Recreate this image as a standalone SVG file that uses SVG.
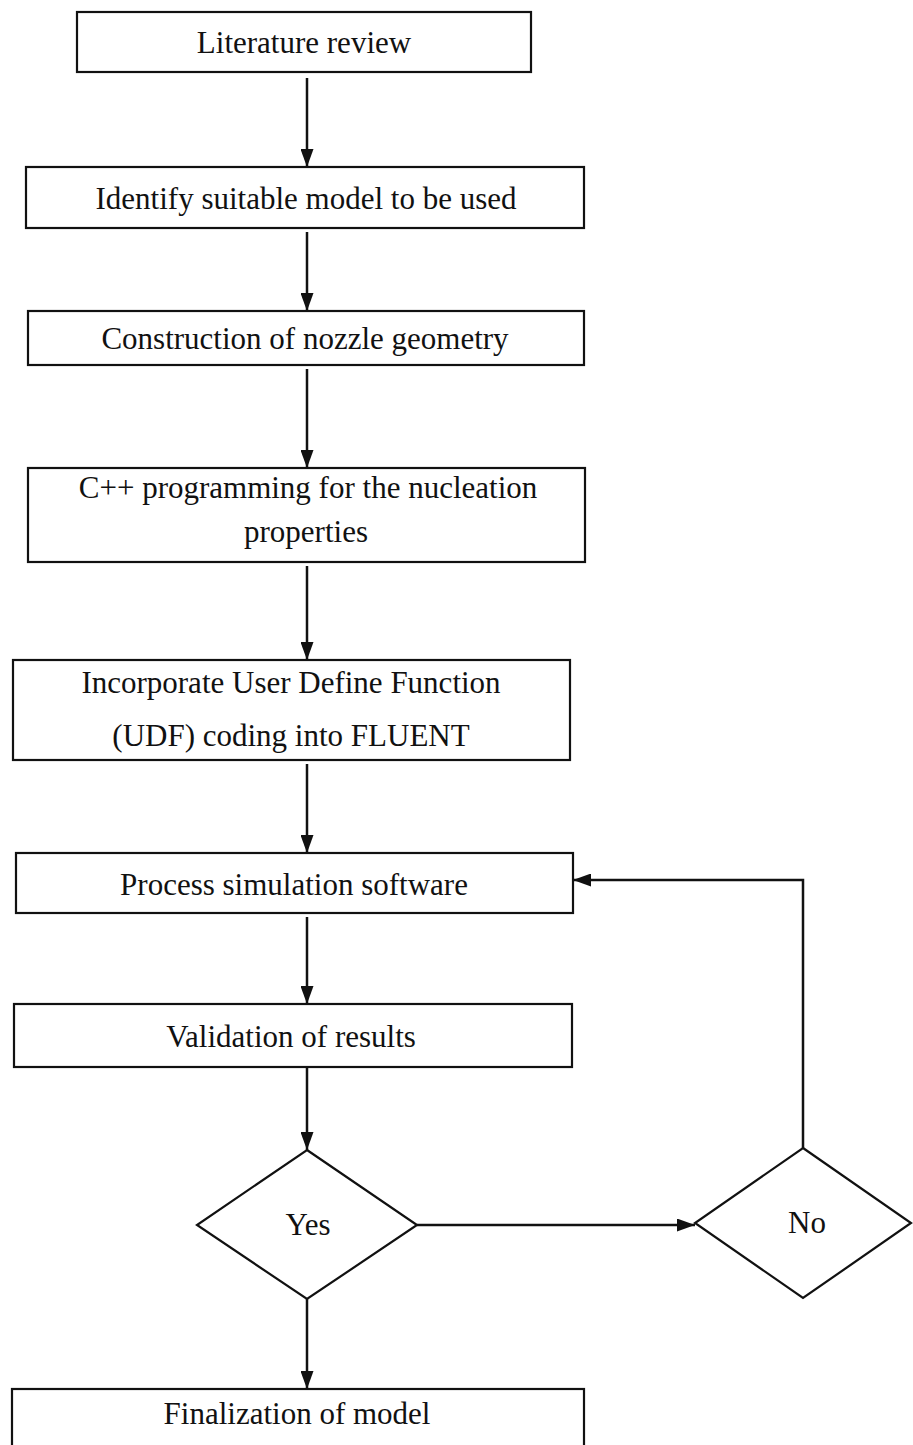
<svg xmlns="http://www.w3.org/2000/svg" width="913" height="1445" viewBox="0 0 913 1445">
<defs>
<style>
.box{fill:#fff;stroke:#111;stroke-width:2.2}
.lbl{font-family:"Liberation Serif","Times New Roman",serif;font-size:31px;fill:#111;text-anchor:middle}
.con{fill:none;stroke:#111;stroke-width:2.5}
</style>
<marker id="ah" viewBox="0 0 18 13" refX="18" refY="6.5" markerWidth="18" markerHeight="13" markerUnits="userSpaceOnUse" orient="auto">
<path d="M0,0 L18,6.5 L0,13 Z" fill="#111"/>
</marker>
</defs>
<rect width="913" height="1445" fill="#fff"/>
<g id="connectors">
<line class="con" x1="307" y1="78" x2="307" y2="167" marker-end="url(#ah)"/>
<line class="con" x1="307" y1="232" x2="307" y2="311" marker-end="url(#ah)"/>
<line class="con" x1="307" y1="369" x2="307" y2="468" marker-end="url(#ah)"/>
<line class="con" x1="307" y1="566" x2="307" y2="660" marker-end="url(#ah)"/>
<line class="con" x1="307" y1="764" x2="307" y2="853" marker-end="url(#ah)"/>
<line class="con" x1="307" y1="917" x2="307" y2="1004" marker-end="url(#ah)"/>
<line class="con" x1="307" y1="1067" x2="307" y2="1150" marker-end="url(#ah)"/>
<line class="con" x1="417" y1="1225" x2="695" y2="1225" marker-end="url(#ah)"/>
<polyline class="con" points="803,1148 803,880 573,880" marker-end="url(#ah)"/>
<line class="con" x1="307" y1="1299" x2="307" y2="1389" marker-end="url(#ah)"/>
</g>
<g id="n1"><rect class="box" x="77" y="12" width="454" height="60"/><text class="lbl" x="304" y="53">Literature review</text></g>
<g id="n2"><rect class="box" x="26" y="167" width="558" height="61"/><text class="lbl" x="306" y="209">Identify suitable model to be used</text></g>
<g id="n3"><rect class="box" x="28" y="311" width="556" height="54"/><text class="lbl" x="305" y="349">Construction of nozzle geometry</text></g>
<g id="n4"><rect class="box" x="28" y="468" width="557" height="94"/><text class="lbl" x="308" y="498">C++ programming for the nucleation</text><text class="lbl" x="306" y="542">properties</text></g>
<g id="n5"><rect class="box" x="13" y="660" width="557" height="100"/><text class="lbl" x="291" y="693">Incorporate User Define Function</text><text class="lbl" x="291" y="746">(UDF) coding into FLUENT</text></g>
<g id="n6"><rect class="box" x="16" y="853" width="557" height="60"/><text class="lbl" x="294" y="895">Process simulation software</text></g>
<g id="n7"><rect class="box" x="14" y="1004" width="558" height="63"/><text class="lbl" x="291" y="1047">Validation of results</text></g>
<g id="n8"><polygon class="box" points="307,1150 417,1225 307,1299 197,1225"/><text class="lbl" x="308" y="1235">Yes</text></g>
<g id="n9"><polygon class="box" points="803,1148 911,1223 803,1298 695,1223"/><text class="lbl" x="807" y="1233">No</text></g>
<g id="n10"><rect class="box" x="12" y="1389" width="572" height="70"/><text class="lbl" x="297" y="1424">Finalization of model</text></g>
</svg>
